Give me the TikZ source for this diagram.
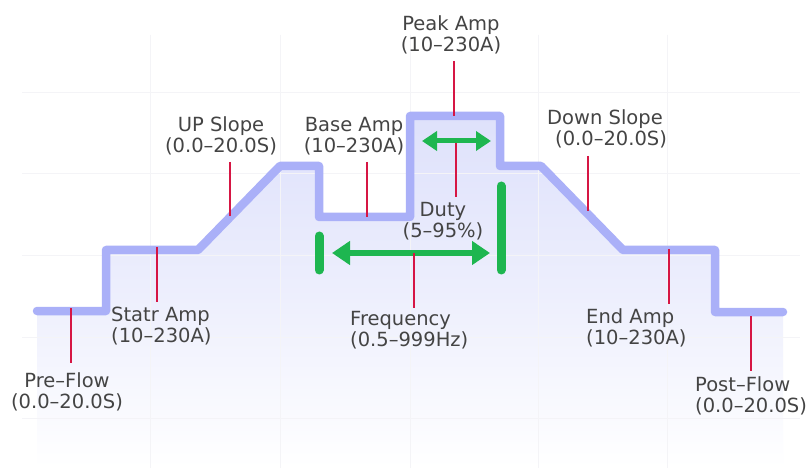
\documentclass[tikz,border=0pt]{standalone}
\usepackage{fontspec}
\setmainfont{DejaVu Sans}
\usetikzlibrary{arrows.meta}
\definecolor{wave}{RGB}{170,176,248}
\definecolor{fillc}{RGB}{222,225,251}
\definecolor{grn}{RGB}{30,182,80}
\definecolor{tickred}{RGB}{214,22,68}
\definecolor{txt}{RGB}{68,68,68}
\definecolor{gridc}{RGB}{244,244,247}
\begin{document}
\begin{tikzpicture}[x=1pt,y=-1pt,
  lbl/.style={text=txt, font=\fontsize{19.5}{21}\selectfont, align=center, inner sep=0pt},
  lbll/.style={lbl, align=left, anchor=west},
  tick/.style={draw=tickred, line width=2.7pt},
  gbar/.style={draw=grn, line width=9pt, line cap=round},
  garrow/.style={draw=grn, line width=6pt, {Triangle[length=18pt,width=23pt]}-{Triangle[length=18pt,width=23pt]}},
  garrows/.style={draw=grn, line width=5pt, {Triangle[length=15pt,width=19pt]}-{Triangle[length=15pt,width=19pt]}},
  gridline/.style={draw=gridc, line width=0.8pt},
  waveline/.style={draw=wave, line width=8.5pt, line join=round, line cap=round}]
\useasboundingbox (0,0) rectangle (807,468);
\fill[white] (0,0) rectangle (807,468);
% fill under the waveform
\shade[top color=fillc, bottom color=white, middle color=fillc!55!white]
  (37,311) -- (106,311) -- (106,250) -- (198,250) -- (280,166) -- (319,166) -- (319,217)
  -- (410,217) -- (410,116) -- (500,116) -- (500,166) -- (541,166) -- (623,250)
  -- (715,250) -- (715,312) -- (783,312) -- (783,468) -- (37,468) -- cycle;
% grid
\foreach \gx in {150,280,410,538,667} \draw[gridline] (\gx,35) -- (\gx,468);
\foreach \gy in {92,173,255,337,418} \draw[gridline] (22,\gy) -- (800,\gy);
% waveform
\draw[waveline] (37,311) -- (106,311) -- (106,250) -- (198,250) -- (280,166) -- (319,166) -- (319,217)
  -- (410,217) -- (410,116) -- (500,116) -- (500,166) -- (541,166) -- (623,250)
  -- (715,250) -- (715,312) -- (783,312);
% green markers
\coordinate (gl1) at (319,236); \coordinate (gl2) at (319,270);
\coordinate (gr1) at (501,186); \coordinate (gr2) at (501,270);
\coordinate (fa1) at (332,253); \coordinate (fa2) at (490,253);
\coordinate (da1) at (422,141); \coordinate (da2) at (491,141);
\draw[gbar] (gl1) -- (gl2);
\draw[gbar] (gr1) -- (gr2);
\draw[garrow] (fa1) -- (fa2);
\draw[garrows] (da1) -- (da2);
% ticks
\coordinate (pf1) at (71,308);  \coordinate (pf2) at (71,363);
\coordinate (sa1) at (157,247); \coordinate (sa2) at (157,302);
\coordinate (us1) at (230,162); \coordinate (us2) at (230,216);
\coordinate (ba1) at (367,162); \coordinate (ba2) at (367,217);
\coordinate (pa1) at (454,61);  \coordinate (pa2) at (454,116);
\coordinate (du1) at (456,143); \coordinate (du2) at (456,197);
\coordinate (ds1) at (588,156); \coordinate (ds2) at (588,211);
\coordinate (fr1) at (414,253); \coordinate (fr2) at (414,308);
\coordinate (ea1) at (669,249); \coordinate (ea2) at (669,304);
\coordinate (po1) at (751,316); \coordinate (po2) at (751,371);
\foreach \t in {pf,sa,us,ba,pa,du,ds,fr,ea,po} \draw[tick] (\t1) -- (\t2);
% labels
\node[lbl] (peak) at (451,35) {Peak Amp\\(10–230A)};
\node[lbl] (up) at (221,136) {UP Slope\\(0.0–20.0S)};
\node[lbl] (base) at (354,136) {Base Amp\\(10–230A)};
\node[lbll] (down) at (547,129) {Down Slope\\\hspace*{8pt}(0.0–20.0S)};
\node[lbl] (duty) at (443,221) {Duty\\(5–95\%)};
\node[lbll] (statr) at (111,326) {Statr Amp\\(10–230A)};
\node[lbl] (pre) at (67,392) {Pre–Flow\\(0.0–20.0S)};
\node[lbll] (freq) at (350,330) {Frequency\\(0.5–999Hz)};
\node[lbll] (endamp) at (586,328) {End Amp\\(10–230A)};
\node[lbll] (post) at (695,395.5) {Post–Flow\\(0.0–20.0S)};
\end{tikzpicture}
\end{document}
